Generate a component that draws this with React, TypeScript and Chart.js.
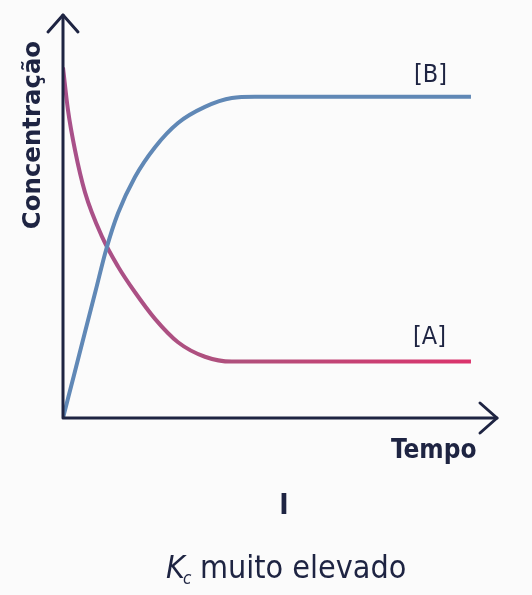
import React, { useEffect, useRef } from "react";
import { Chart, registerables } from "chart.js";

Chart.register(...registerables);

// Time (arbitrary units 0..100) and concentration (0..100)
const timeB = [0, 2.5, 5, 7.5, 10, 12.67, 16.59, 21.2, 26.5, 32.7, 38.9, 44.2, 60, 75, 94];
const concB = [0, 10.5, 21, 31.5, 42, 50.8, 59.8, 67.2, 73.2, 77.2, 79.4, 79.7, 79.7, 79.7, 79.7];

const timeA = [0, 1.15, 2.76, 5.07, 8.99, 12.67, 16.59, 21.2, 26.5, 32.7, 38.9, 44.2, 60, 75, 94];
const concA = [87.0, 76.4, 66.5, 56.0, 45.0, 37.6, 31.2, 24.6, 18.8, 15.2, 14.0, 14.0, 14.0, 14.0, 14.0];

const yAxisTitle = "Concentração";
const xAxisTitle = "Tempo";
const labelB = "[B]";
const labelA = "[A]";
const panelNumber = "I";
const caption = " muito elevado";

const INK = "#1e2442";
const FONT = "'Liberation Sans Narrow', 'DejaVu Sans Condensed', 'Roboto', sans-serif";

const decorPlugin = {
  id: "decor",
  afterDraw(chart: any) {
    const { ctx, chartArea } = chart;
    const { left, right, top, bottom } = chartArea;
    ctx.save();
    ctx.strokeStyle = INK;
    ctx.lineWidth = 3;
    ctx.lineCap = "round";
    ctx.lineJoin = "round";
    // axes
    ctx.beginPath();
    ctx.moveTo(left, top);
    ctx.lineTo(left, bottom);
    ctx.lineTo(right, bottom);
    ctx.stroke();
    // y arrow
    ctx.beginPath();
    ctx.moveTo(left - 15, top + 17);
    ctx.lineTo(left, top);
    ctx.lineTo(left + 15, top + 17);
    ctx.stroke();
    // x arrow
    ctx.beginPath();
    ctx.moveTo(right - 17, bottom - 15);
    ctx.lineTo(right, bottom);
    ctx.lineTo(right - 17, bottom + 15);
    ctx.stroke();

    ctx.fillStyle = INK;
    ctx.textBaseline = "alphabetic";
    // y title rotated
    ctx.save();
    ctx.translate(40, 135);
    ctx.rotate(-Math.PI / 2);
    ctx.scale(1.13, 1);
    ctx.textAlign = "center";
    ctx.font = `bold 24px ${FONT}`;
    ctx.fillText(yAxisTitle, 0, 0);
    ctx.restore();

    ctx.textAlign = "left";
    ctx.font = `25px ${FONT}`;
    ctx.fillText(labelB, 414, 82);
    ctx.fillText(labelA, 413, 344);

    ctx.font = `bold 26px ${FONT}`;
    ctx.fillText(xAxisTitle, 391, 458);

    ctx.textAlign = "center";
    ctx.font = `bold 28px ${FONT}`;
    ctx.fillText(panelNumber, 284, 514);

    // caption: italic K with subscript c
    ctx.textAlign = "left";
    ctx.font = `italic 32px ${FONT}`;
    const kx = 166;
    const by = 578;
    ctx.fillText("K", kx, by);
    const kw = ctx.measureText("K").width;
    ctx.font = `italic 17px ${FONT}`;
    ctx.fillText("c", kx + kw - 2, by + 6);
    ctx.font = `32px ${FONT}`;
    ctx.fillText(caption, kx + kw + 6, by);
    ctx.restore();
  },
};

export default function App() {
  const ref = useRef<HTMLCanvasElement | null>(null);
  useEffect(() => {
    document.body.style.margin = "0";
    document.body.style.background = "#fbfbfb";
    const canvas = ref.current;
    if (!canvas) return;
    const chart = new Chart(canvas, {
      type: "line",
      data: {
        datasets: [
          {
            label: "[B]",
            data: timeB.map((t, i) => ({ x: t, y: concB[i] })),
            borderColor: "#6088b6",
            borderWidth: 4,
            pointRadius: 0,
            cubicInterpolationMode: "monotone",
            fill: false,
          },
          {
            label: "[A]",
            data: timeA.map((t, i) => ({ x: t, y: concA[i] })),
            borderColor: (c: any) => {
              const { chart } = c;
              const { ctx, chartArea } = chart;
              if (!chartArea) return "#c0507a";
              const g = ctx.createLinearGradient(chartArea.left, 0, chartArea.right, 0);
              g.addColorStop(0, "#a8508a");
              g.addColorStop(0.4, "#b0507c");
              g.addColorStop(1, "#e0306a");
              return g;
            },
            borderWidth: 4,
            pointRadius: 0,
            cubicInterpolationMode: "monotone",
            fill: false,
          },
        ],
      },
      options: {
        responsive: false,
        animation: false,
        layout: { padding: { left: 63, right: 35, top: 15, bottom: 177 } },
        plugins: { legend: { display: false }, tooltip: { enabled: false } },
        scales: {
          x: { type: "linear", min: 0, max: 100, display: false },
          y: { type: "linear", min: 0, max: 100, display: false },
        },
      } as any,
      plugins: [decorPlugin],
    });
    return () => chart.destroy();
  }, []);
  return (
    <canvas ref={ref} width={532} height={595} style={{ display: "block", background: "#fbfbfb" }} />
  );
}
